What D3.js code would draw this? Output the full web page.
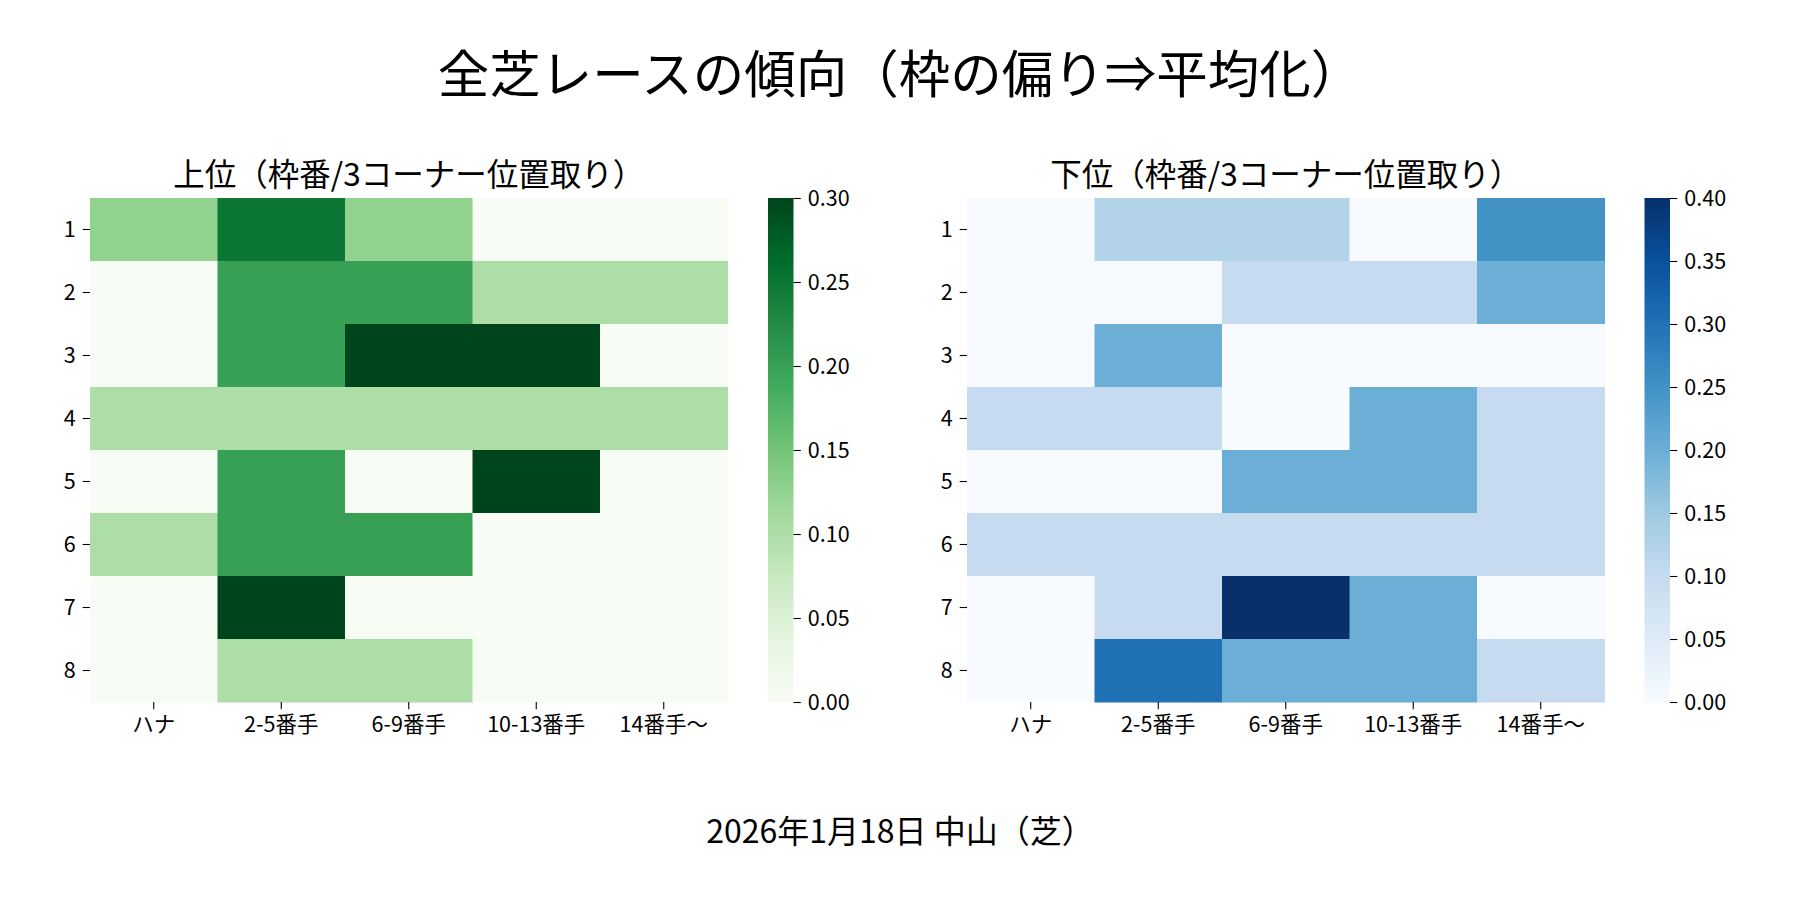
<!DOCTYPE html>
<html>
<head>
<meta charset="utf-8">
<script src="https://cdn.jsdelivr.net/npm/d3@7"></script>
<style>
  body { margin: 0; background: #fff; }
  text { font-family: "Noto Sans CJK JP", "Noto Sans", sans-serif; fill: #000; }
</style>
</head>
<body>
<svg id="chart" width="1800" height="900"></svg>
<script>
// data
rowLabels = ["1", "2", "3", "4", "5", "6", "7", "8"];
colLabels = ["ハナ", "2-5番手", "6-9番手", "10-13番手", "14番手〜"];

topValues = [
    [0.125, 0.25, 0.125, 0, 0],
    [0, 0.2, 0.2, 0.1, 0.1],
    [0, 0.2, 0.3, 0.3, 0],
    [0.1, 0.1, 0.1, 0.1, 0.1],
    [0, 0.2, 0, 0.3, 0],
    [0.1, 0.2, 0.2, 0, 0],
    [0, 0.3, 0, 0, 0],
    [0, 0.1, 0.1, 0, 0]
];
bottomValues = [
    [0, 0.125, 0.125, 0, 0.25],
    [0, 0, 0.1, 0.1, 0.2],
    [0, 0.2, 0, 0, 0],
    [0.1, 0.1, 0, 0.2, 0.1],
    [0, 0, 0.2, 0.2, 0.1],
    [0.1, 0.1, 0.1, 0.1, 0.1],
    [0, 0.1, 0.4, 0.2, 0],
    [0, 0.3, 0.2, 0.2, 0.1]
];
topTicks = [0, 0.05, 0.10, 0.15, 0.20, 0.25, 0.30];
bottomTicks = [0, 0.05, 0.10, 0.15, 0.20, 0.25, 0.30, 0.35, 0.40];

greens = ["#f7fcf5", "#e5f5e0", "#c7e9c0", "#a1d99b", "#74c476", "#41ab5d", "#238b45", "#006d2c", "#00441b"];
blues = ["#f7fbff", "#deebf7", "#c6dbef", "#9ecae1", "#6baed6", "#4292c6", "#2171b5", "#08519c", "#08306b"];

mainTitle = "全芝レースの傾向（枠の偏り⇒平均化）";
footer = "2026年1月18日 中山（芝）";

svg = d3.select("#chart");
defs = svg.append("defs");

function makeCmap(colours, vmax) {
    return d3.scaleLinear()
        .domain(colours.map((c, i) => i * vmax / (colours.length - 1)))
        .range(colours)
        .clamp(true);
}

function drawHeatmap(id, values, colours, vmax, ticks, title, x0, cbX) {
    width = 637.5;
    y0 = 198;
    height = 504;
    colour = makeCmap(colours, vmax);

    x = d3.scaleBand().domain(colLabels).range([x0, x0 + width]);
    y = d3.scaleBand().domain(rowLabels).range([y0, y0 + height]);

    g = svg.append("g");
    cells = [];
    values.forEach((row, r) => row.forEach((v, c) => {
        cells.push({row: rowLabels[r], col: colLabels[c], v: v});
    }));
    g.selectAll("rect.cell")
        .data(cells).enter()
        .append("rect")
        .attr("class", "cell")
        .attr("x", (d) => x(d.col))
        .attr("y", (d) => y(d.row))
        .attr("width", x.bandwidth() + 0.5)
        .attr("height", y.bandwidth() + 0.5)
        .attr("fill", (d) => colour(d.v));

    // axes
    xAxis = g.append("g")
        .attr("transform", "translate(0," + (y0 + height) + ")")
        .call(d3.axisBottom(x).tickSize(7.3).tickPadding(7));
    yAxis = g.append("g")
        .attr("transform", "translate(" + x0 + ",0)")
        .call(d3.axisLeft(y).tickSize(7.3).tickPadding(7));
    [xAxis, yAxis].forEach((a) => {
        a.select(".domain").remove();
        a.selectAll("line").attr("stroke", "#000").attr("stroke-width", 1.1);
        a.selectAll("text").style("font-size", "21.5px");
    });
    yAxis.selectAll("text").attr("dy", "0.35em");
    xAxis.selectAll("text").attr("dy", "0.72em");

    // title
    g.append("text")
        .text(title)
        .attr("x", x0 + width / 2)
        .attr("y", y0 - 12)
        .style("font-size", "31.5px")
        .style("text-anchor", "middle");

    // colorbar
    grad = defs.append("linearGradient")
        .attr("id", id)
        .attr("x1", 0).attr("y1", 1).attr("x2", 0).attr("y2", 0);
    grad.selectAll("stop")
        .data(colours).enter()
        .append("stop")
        .attr("offset", (d, i) => i / (colours.length - 1))
        .attr("stop-color", (d) => d);
    cbW = 25.5;
    g.append("rect")
        .attr("x", cbX)
        .attr("y", y0)
        .attr("width", cbW)
        .attr("height", height)
        .attr("fill", "url(#" + id + ")");
    cy = d3.scaleLinear().domain([0, vmax]).range([y0 + height, y0]);
    cAxis = g.append("g")
        .attr("transform", "translate(" + (cbX + cbW) + ",0)")
        .call(d3.axisRight(cy).tickValues(ticks).tickFormat(d3.format(".2f")).tickSize(7.3).tickPadding(7));
    cAxis.select(".domain").remove();
    cAxis.selectAll("line").attr("stroke", "#000").attr("stroke-width", 1.1);
    cAxis.selectAll("text").style("font-size", "21.5px").attr("dy", "0.35em");
}

drawHeatmap("gradGreens", topValues, greens, 0.30, topTicks, "上位（枠番/3コーナー位置取り）", 90, 768);
drawHeatmap("gradBlues", bottomValues, blues, 0.40, bottomTicks, "下位（枠番/3コーナー位置取り）", 967, 1644.5);

svg.append("text")
    .text(mainTitle)
    .attr("x", 900)
    .attr("y", 93)
    .style("font-size", "51.5px")
    .style("text-anchor", "middle");

svg.append("text")
    .text(footer)
    .attr("x", 900)
    .attr("y", 843)
    .style("font-size", "32px")
    .style("text-anchor", "middle");
</script>
</body>
</html>
